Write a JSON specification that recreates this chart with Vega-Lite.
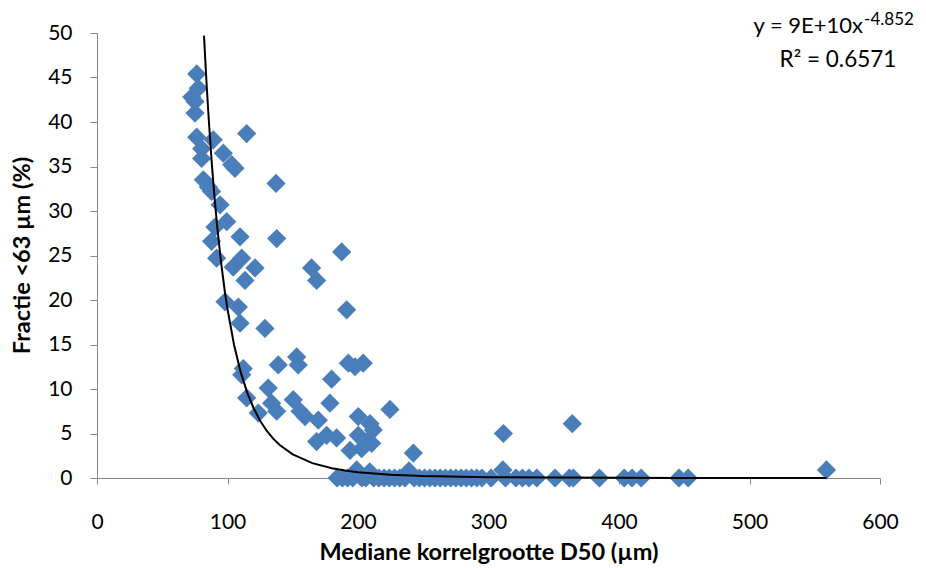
{
  "$schema": "https://vega.github.io/schema/vega-lite/v6.json",
  "width": 783,
  "height": 445,
  "autosize": {"type": "none"},
  "padding": {"left": 97, "top": 33, "right": 46, "bottom": 90},
  "background": "white",
  "config": {
    "view": {"stroke": null},
    "font": "Lato",
    "axis": {
      "domainColor": "#868686",
      "tickColor": "#868686",
      "grid": false,
      "labelFlush": false,
      "labelFont": "Lato",
      "labelFontSize": 21,
      "labelColor": "#000000",
      "titleFont": "Lato",
      "titleFontSize": 23.5,
      "titleFontWeight": "bold",
      "titleColor": "#000000"
    }
  },
  "datasets": {
    "pts": [
      {"d50": 76.4, "frac": 45.4}, {"d50": 77.6, "frac": 43.8}, {"d50": 72.6, "frac": 42.8}, {"d50": 75.1, "frac": 42.3},
      {"d50": 75.1, "frac": 41.0}, {"d50": 76.4, "frac": 38.3}, {"d50": 89.1, "frac": 38.0}, {"d50": 114.7, "frac": 38.7},
      {"d50": 80.2, "frac": 37.0}, {"d50": 80.2, "frac": 35.9}, {"d50": 96.8, "frac": 36.5}, {"d50": 103.2, "frac": 35.2},
      {"d50": 105.7, "frac": 34.8}, {"d50": 81.5, "frac": 33.5}, {"d50": 85.3, "frac": 32.7}, {"d50": 87.8, "frac": 32.2},
      {"d50": 137.2, "frac": 33.1}, {"d50": 94.3, "frac": 30.7}, {"d50": 90.4, "frac": 28.2}, {"d50": 99.4, "frac": 28.8},
      {"d50": 109.6, "frac": 27.1}, {"d50": 137.7, "frac": 26.9}, {"d50": 87.8, "frac": 26.6}, {"d50": 91.7, "frac": 24.7},
      {"d50": 110.9, "frac": 24.7}, {"d50": 104.4, "frac": 23.7}, {"d50": 121.1, "frac": 23.6}, {"d50": 113.4, "frac": 22.2},
      {"d50": 98.1, "frac": 19.8}, {"d50": 108.3, "frac": 19.2}, {"d50": 109.6, "frac": 17.4}, {"d50": 128.7, "frac": 16.8},
      {"d50": 112.1, "frac": 12.3}, {"d50": 110.9, "frac": 11.6}, {"d50": 131.2, "frac": 10.1}, {"d50": 114.7, "frac": 9.0},
      {"d50": 123.6, "frac": 7.3}, {"d50": 133.8, "frac": 8.4}, {"d50": 137.7, "frac": 7.5},
      {"d50": 187.5, "frac": 25.4}, {"d50": 164.4, "frac": 23.6}, {"d50": 168.3, "frac": 22.2}, {"d50": 191.3, "frac": 18.9},
      {"d50": 153.0, "frac": 13.6}, {"d50": 154.2, "frac": 12.7}, {"d50": 138.9, "frac": 12.7}, {"d50": 192.6, "frac": 12.9},
      {"d50": 197.7, "frac": 12.5}, {"d50": 204.0, "frac": 12.9}, {"d50": 179.8, "frac": 11.1}, {"d50": 150.4, "frac": 8.8},
      {"d50": 155.6, "frac": 7.5}, {"d50": 159.4, "frac": 6.9}, {"d50": 169.6, "frac": 6.5}, {"d50": 178.5, "frac": 8.4},
      {"d50": 224.5, "frac": 7.7}, {"d50": 200.2, "frac": 6.9}, {"d50": 209.2, "frac": 6.1}, {"d50": 211.7, "frac": 5.4},
      {"d50": 176.0, "frac": 4.8}, {"d50": 168.3, "frac": 4.1}, {"d50": 183.6, "frac": 4.5}, {"d50": 200.2, "frac": 4.8},
      {"d50": 206.6, "frac": 4.1}, {"d50": 210.5, "frac": 3.9}, {"d50": 193.9, "frac": 3.1}, {"d50": 202.8, "frac": 3.3},
      {"d50": 242.4, "frac": 2.8}, {"d50": 199.0, "frac": 0.9}, {"d50": 209.0, "frac": 0.7}, {"d50": 239.0, "frac": 0.8},
      {"d50": 311.0, "frac": 0.9}, {"d50": 559.0, "frac": 0.9}, {"d50": 311.4, "frac": 5.0}, {"d50": 364.2, "frac": 6.1},
      {"d50": 184, "frac": 0}, {"d50": 188, "frac": 0}, {"d50": 192, "frac": 0}, {"d50": 196, "frac": 0},
      {"d50": 203, "frac": 0}, {"d50": 206, "frac": 0}, {"d50": 212, "frac": 0}, {"d50": 216, "frac": 0},
      {"d50": 220, "frac": 0}, {"d50": 224, "frac": 0}, {"d50": 228, "frac": 0}, {"d50": 232, "frac": 0},
      {"d50": 236, "frac": 0}, {"d50": 243, "frac": 0}, {"d50": 247, "frac": 0}, {"d50": 251, "frac": 0},
      {"d50": 255, "frac": 0}, {"d50": 259, "frac": 0}, {"d50": 263, "frac": 0}, {"d50": 267, "frac": 0},
      {"d50": 271, "frac": 0}, {"d50": 275, "frac": 0}, {"d50": 279, "frac": 0}, {"d50": 283, "frac": 0},
      {"d50": 287, "frac": 0}, {"d50": 291, "frac": 0}, {"d50": 295, "frac": 0}, {"d50": 302, "frac": 0},
      {"d50": 313, "frac": 0}, {"d50": 321, "frac": 0}, {"d50": 326, "frac": 0}, {"d50": 331, "frac": 0},
      {"d50": 337, "frac": 0}, {"d50": 351, "frac": 0}, {"d50": 362, "frac": 0}, {"d50": 365, "frac": 0},
      {"d50": 385, "frac": 0}, {"d50": 404, "frac": 0}, {"d50": 410, "frac": 0}, {"d50": 417, "frac": 0},
      {"d50": 446, "frac": 0}, {"d50": 453, "frac": 0}
    ],
    "curve": [
      {"d50": 82, "frac": 49.7}, {"d50": 83, "frac": 46.9}, {"d50": 84, "frac": 44.2}, {"d50": 85, "frac": 41.8},
      {"d50": 86, "frac": 39.5}, {"d50": 88, "frac": 35.3}, {"d50": 90, "frac": 31.6}, {"d50": 92, "frac": 28.4},
      {"d50": 95, "frac": 24.3}, {"d50": 98, "frac": 20.9}, {"d50": 100, "frac": 18.98}, {"d50": 105, "frac": 14.98},
      {"d50": 110, "frac": 11.95}, {"d50": 115, "frac": 9.63}, {"d50": 120, "frac": 7.84}, {"d50": 125, "frac": 6.43},
      {"d50": 130, "frac": 5.31}, {"d50": 135, "frac": 4.42}, {"d50": 140, "frac": 3.71}, {"d50": 150, "frac": 2.65},
      {"d50": 165, "frac": 1.67}, {"d50": 180, "frac": 1.096}, {"d50": 190, "frac": 0.843}, {"d50": 200, "frac": 0.657},
      {"d50": 225, "frac": 0.371}, {"d50": 250, "frac": 0.2226}, {"d50": 300, "frac": 0.0919}, {"d50": 350, "frac": 0.0435},
      {"d50": 400, "frac": 0.0228}, {"d50": 450, "frac": 0.0128}, {"d50": 500, "frac": 0.0077}, {"d50": 559, "frac": 0.0045}
    ],
    "one": [{}]
  },
  "layer": [
    {
      "data": {"name": "pts"},
      "mark": {"type": "point", "shape": "diamond", "filled": true, "size": 370, "color": "#4A7EBB", "opacity": 1},
      "encoding": {
        "x": {
          "field": "d50", "type": "quantitative",
          "scale": {"domain": [0, 600], "nice": false, "zero": false},
          "axis": {"title": "Mediane korrelgrootte D50 (µm)", "values": [0, 100, 200, 300, 400, 500, 600], "tickSize": 6, "labelPadding": 27, "titleY": 74, "titleBaseline": "middle"}
        },
        "y": {
          "field": "frac", "type": "quantitative",
          "scale": {"domain": [0, 50], "nice": false, "zero": false},
          "axis": {"title": "Fractie <63 µm (%)", "values": [0, 5, 10, 15, 20, 25, 30, 35, 40, 45, 50], "tickSize": 7, "labelPadding": 18, "titleX": -75, "titleY": 222, "titleAngle": -90, "titleBaseline": "middle", "titleAlign": "center"}
        }
      }
    },
    {
      "data": {"name": "curve"},
      "mark": {"type": "line", "color": "#000000", "strokeWidth": 2},
      "encoding": {
        "x": {"field": "d50", "type": "quantitative"},
        "y": {"field": "frac", "type": "quantitative"}
      }
    },
    {
      "data": {"name": "one"},
      "mark": {"type": "text", "align": "right", "baseline": "alphabetic", "fontSize": 22, "font": "Lato", "color": "#000000"},
      "encoding": {
        "x": {"datum": 587},
        "y": {"datum": 50.0},
        "text": {"value": "y = 9E+10x"}
      }
    },
    {
      "data": {"name": "one"},
      "mark": {"type": "text", "align": "left", "baseline": "alphabetic", "fontSize": 17, "font": "Lato", "color": "#000000"},
      "encoding": {
        "x": {"datum": 587.8},
        "y": {"datum": 50.9},
        "text": {"value": "-4.852"}
      }
    },
    {
      "data": {"name": "one"},
      "mark": {"type": "text", "align": "center", "baseline": "alphabetic", "fontSize": 22.5, "font": "Lato", "color": "#000000"},
      "encoding": {
        "x": {"datum": 567.8},
        "y": {"datum": 46.2},
        "text": {"value": "R² = 0.6571"}
      }
    }
  ]
}
